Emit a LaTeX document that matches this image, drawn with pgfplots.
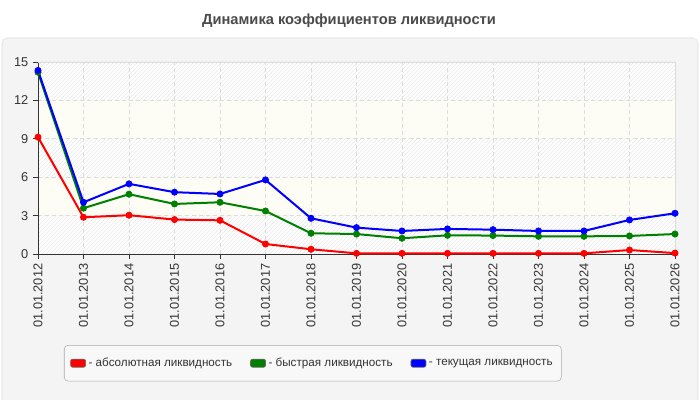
\documentclass[border=0pt]{standalone}
\usepackage{pgfplots}
\pgfplotsset{compat=1.18}
\usepackage{fontspec}
\setmainfont{Liberation Sans}
\usetikzlibrary{patterns}
\definecolor{panel}{HTML}{F4F4F4}
\definecolor{panelborder}{HTML}{DDDDDD}
\definecolor{gridcol}{HTML}{DCDCDC}
\definecolor{cream}{HTML}{FDFDF6}
\definecolor{hatch}{HTML}{EAEAEA}
\definecolor{txt}{HTML}{333333}
\definecolor{titlecol}{HTML}{4A4A4A}
\definecolor{legborder}{HTML}{AAAAAA}
\definecolor{cgreen}{HTML}{008000}

\begin{document}
\begin{tikzpicture}
\begin{scope}[x=0.75pt,y=0.75pt]
\useasboundingbox (0,0) rectangle (700,400);
\fill[white] (0,0) rectangle (700,400);
\draw[draw=panelborder, fill=panel, rounded corners=4pt] (2,0) -- (2,362) -- (698,362) -- (698,0);
\node[font=\bfseries\fontsize{11}{13}\selectfont, text=titlecol] at (349,379) {Динамика коэффициентов ликвидности};
% plot area background bands
\fill[white] (38,146) rectangle (675,338);
\fill[cream] (38,184.4) rectangle (675,222.8);
\fill[cream] (38,261.2) rectangle (675,299.6);
\fill[pattern=north east lines, pattern color=hatch] (38,146) rectangle (675,184.4);
\fill[pattern=north east lines, pattern color=hatch] (38,222.8) rectangle (675,261.2);
\fill[pattern=north east lines, pattern color=hatch] (38,299.6) rectangle (675,338);
\end{scope}
\begin{axis}[
  at={(28.5pt,109.5pt)}, anchor=south west,
  scale only axis, width=477.75pt, height=144pt,
  xmin=0, xmax=14, ymin=0, ymax=15,
  clip=false,
  axis lines*=left,
  axis line style={txt, line width=0.75pt},
  xtick={0,...,14},
  xticklabels={01.01.2012,01.01.2013,01.01.2014,01.01.2015,01.01.2016,01.01.2017,01.01.2018,01.01.2019,01.01.2020,01.01.2021,01.01.2022,01.01.2023,01.01.2024,01.01.2025,01.01.2026},
  ytick={0,3,...,15},
  tick align=outside,
  major tick length=3.75pt,
  tick style={txt, line width=0.75pt},
  x tick label style={rotate=90, anchor=east},
  ticklabel style={font=\fontsize{9.6}{11}\selectfont, text=txt},
  /pgf/number format/assume math mode=true,
  grid=major,
  major grid style={gridcol, dash pattern=on 3pt off 2.25pt, line width=0.6pt},
  legend columns=3,
  legend cell align=left,
  legend style={at={(axis description cs:0.0408,-0.474)}, anchor=north west,
    draw=legborder, fill=white!40!panel, rounded corners=3pt,
    font=\fontsize{8.75}{11}\selectfont, text=txt,
    inner xsep=4.5pt, inner ysep=7.5pt,
    /tikz/every even column/.append style={column sep=11.5pt}},
  legend image code/.code={\draw[#1, draw=black!60, line width=0.5pt, rounded corners=1.5pt, fill] (0pt,-3pt) rectangle (11.25pt,3pt);},
  every axis plot/.append style={line width=1.5pt, mark=*, mark size=2.3pt},
]
\draw[gridcol, line width=0.75pt] (rel axis cs:0,1) -- (rel axis cs:1,1) -- (rel axis cs:1,0);
\addplot[red, mark options={fill=red, line width=0.6pt}] coordinates {
(0,9.13) (1,2.87) (2,3.03) (3,2.69) (4,2.63) (5,0.78) (6,0.37) (7,0.05)
(8,0.05) (9,0.05) (10,0.05) (11,0.05) (12,0.05) (13,0.31) (14,0.07)};
\addlegendentry{- абсолютная ликвидность}
\addplot[cgreen, mark options={fill=cgreen, line width=0.6pt}] coordinates {
(0,14.2) (1,3.58) (2,4.67) (3,3.91) (4,4.04) (5,3.36) (6,1.62) (7,1.56)
(8,1.23) (9,1.46) (10,1.44) (11,1.38) (12,1.38) (13,1.41) (14,1.56)};
\addlegendentry{- быстрая ликвидность}
\addplot[blue, mark options={fill=blue, line width=0.6pt}] coordinates {
(0,14.34) (1,4.04) (2,5.48) (3,4.83) (4,4.69) (5,5.79) (6,2.79) (7,2.06)
(8,1.80) (9,1.96) (10,1.90) (11,1.80) (12,1.80) (13,2.66) (14,3.18)};
\addlegendentry{- текущая ликвидность}
\end{axis}
\end{tikzpicture}
\end{document}
